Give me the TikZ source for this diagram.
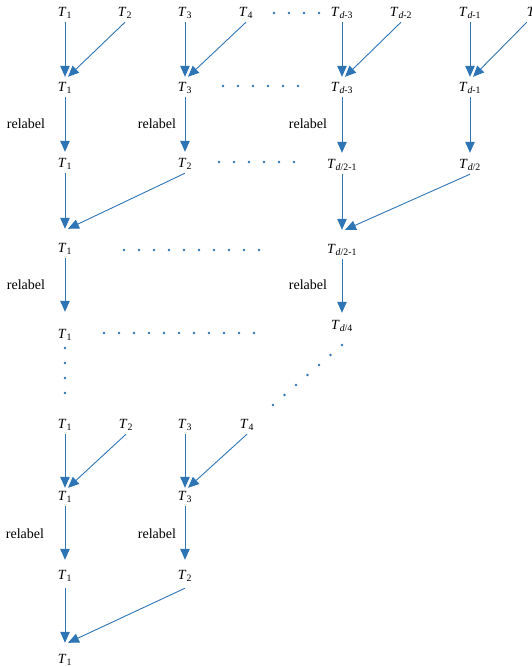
\documentclass[tikz,border=0pt]{standalone}
\usepackage{fontspec}
\setmainfont{Liberation Serif}
\usetikzlibrary{arrows.meta}
\definecolor{arrblue}{RGB}{46,117,182}
\newcommand{\Tx}[1]{\textit{T}\textsubscript{#1}}
\newcommand{\dd}{\textit{d}}
\begin{document}
\begin{tikzpicture}[x=1pt,y=-1pt,
  tn/.style={inner sep=0pt,minimum height=18pt,font=\fontsize{14}{16}\selectfont},
  rl/.style={inner sep=0pt,font=\fontsize{14}{16}\selectfont},
  arr/.style={draw=arrblue,line width=1pt,-{Triangle[length=11pt,width=9.5pt]}},
  darr/.style={draw=arrblue,line width=0.9pt,-{Triangle[length=11pt,width=9.5pt]}},
  dotc/.style={fill=arrblue}]
\useasboundingbox (0,0) rectangle (532,667);
% row 1
\node[tn] (a1) at (65,13) {\Tx{1}};
\node[tn] (a2) at (125,13) {\Tx{2}};
\node[tn] (a3) at (185,13) {\Tx{3}};
\node[tn] (a4) at (246,13) {\Tx{4}};
\node[tn] (a5) at (342,13) {\Tx{\dd-3}};
\node[tn] (a6) at (401,13) {\Tx{\dd-2}};
\node[tn] (a7) at (470,13) {\Tx{\dd-1}};
\node[tn] (a8) at (534,13) {\Tx{\dd}};
% row 2
\node[tn] (b1) at (65,88) {\Tx{1}};
\node[tn] (b3) at (185,88) {\Tx{3}};
\node[tn] (b5) at (342,88) {\Tx{\dd-3}};
\node[tn] (b7) at (470,88) {\Tx{\dd-1}};
% row 3
\node[tn] (c1) at (65,164) {\Tx{1}};
\node[tn] (c2) at (185,164) {\Tx{2}};
\node[tn] (c5) at (342,165) {\Tx{\dd/2-1}};
\node[tn] (c7) at (470,165) {\Tx{\dd/2}};
% row 4
\node[tn] (d1) at (65,249) {\Tx{1}};
\node[tn] (d5) at (342,250) {\Tx{\dd/2-1}};
% row 5
\node[tn] (e1) at (65,335) {\Tx{1}};
\node[tn] (e5) at (342,326) {\Tx{\dd/4}};
% row 6
\node[tn] (f1) at (65,425) {\Tx{1}};
\node[tn] (f2) at (126,425) {\Tx{2}};
\node[tn] (f3) at (185,425) {\Tx{3}};
\node[tn] (f4) at (247,425) {\Tx{4}};
% row 7
\node[tn] (g1) at (65,497) {\Tx{1}};
\node[tn] (g3) at (185,497) {\Tx{3}};
% row 8
\node[tn] (h1) at (65,576) {\Tx{1}};
\node[tn] (h2) at (185,576) {\Tx{2}};
% row 9
\node[tn] (i1) at (65,660) {\Tx{1}};
% relabel labels
\node[rl] (r1) at (26,124) {relabel};
\node[rl] (r2) at (157,124) {relabel};
\node[rl] (r3) at (308,124) {relabel};
\node[rl] (r4) at (26,285) {relabel};
\node[rl] (r5) at (308,285) {relabel};
\node[rl] (r6) at (25,534) {relabel};
\node[rl] (r7) at (157,534) {relabel};
% arrows row1 -> row2
\draw[arr] (a1.south) -- ([yshift=2pt]b1.north);
\draw[darr] (a2.south) -- ([xshift=3pt,yshift=2pt]b1.north);
\draw[arr] (a3.south) -- ([yshift=2pt]b3.north);
\draw[darr] (a4.south) -- ([xshift=3pt,yshift=2pt]b3.north);
\draw[arr] (a5.south) -- ([yshift=2pt]b5.north);
\draw[darr] (a6.south) -- ([xshift=3pt,yshift=2pt]b5.north);
\draw[arr] (a7.south) -- ([yshift=2pt]b7.north);
\draw[darr] (a8.south west) -- ([xshift=3pt,yshift=2pt]b7.north);
% row2 -> row3
\draw[arr] (b1.south) -- ([yshift=3pt]c1.north);
\draw[arr] (b3.south) -- ([yshift=3pt]c2.north);
\draw[arr] (b5.south) -- ([yshift=3pt]c5.north);
\draw[arr] (b7.south) -- ([yshift=3pt]c7.north);
% row3 -> row4
\draw[arr] (c1.south) -- ([yshift=11pt]d1.north);
\draw[darr] (c2.south) -- ([xshift=3pt,yshift=11pt]d1.north);
\draw[arr] (c5.south) -- ([yshift=11pt]d5.north);
\draw[darr] (c7.south) -- ([xshift=3pt,yshift=11pt]d5.north);
% row4 -> row5
\draw[arr] (d1.south) -- ([yshift=14pt]e1.north);
\draw[arr] (d5.south) -- ([yshift=4pt]e5.north);
% row6 -> row7
\draw[arr] (f1.south) -- (g1.north);
\draw[darr] (f2.south) -- ([xshift=3pt]g1.north);
\draw[arr] (f3.south) -- (g3.north);
\draw[darr] (f4.south) -- ([xshift=3pt]g3.north);
% row7 -> row8
\draw[arr] (g1.south) -- ([yshift=7pt]h1.north);
\draw[arr] (g3.south) -- ([yshift=7pt]h2.north);
% row8 -> row9
\draw[arr] ([yshift=-3pt]h1.south) -- ([yshift=8pt]i1.north);
\draw[darr] ([yshift=-3pt]h2.south) -- ([xshift=3pt,yshift=8pt]i1.north);
% dots
\foreach \x in {274,289,304,319} \fill[dotc] (\x,13) circle (1.3);
\foreach \x in {223,238,...,298} \fill[dotc] (\x,86) circle (1.3);
\foreach \x in {219,234,...,294} \fill[dotc] (\x,162) circle (1.3);
\foreach \x in {124,139,...,259} \fill[dotc] (\x,250) circle (1.3);
\foreach \x in {104,119,...,254} \fill[dotc] (\x,333) circle (1.3);
\foreach \y in {348,363,378,393} \fill[dotc] (65,\y) circle (1.3);
\foreach \i in {0,...,6} \fill[dotc] (342-11.5*\i,345+10*\i) circle (1.3);
\end{tikzpicture}
\end{document}
